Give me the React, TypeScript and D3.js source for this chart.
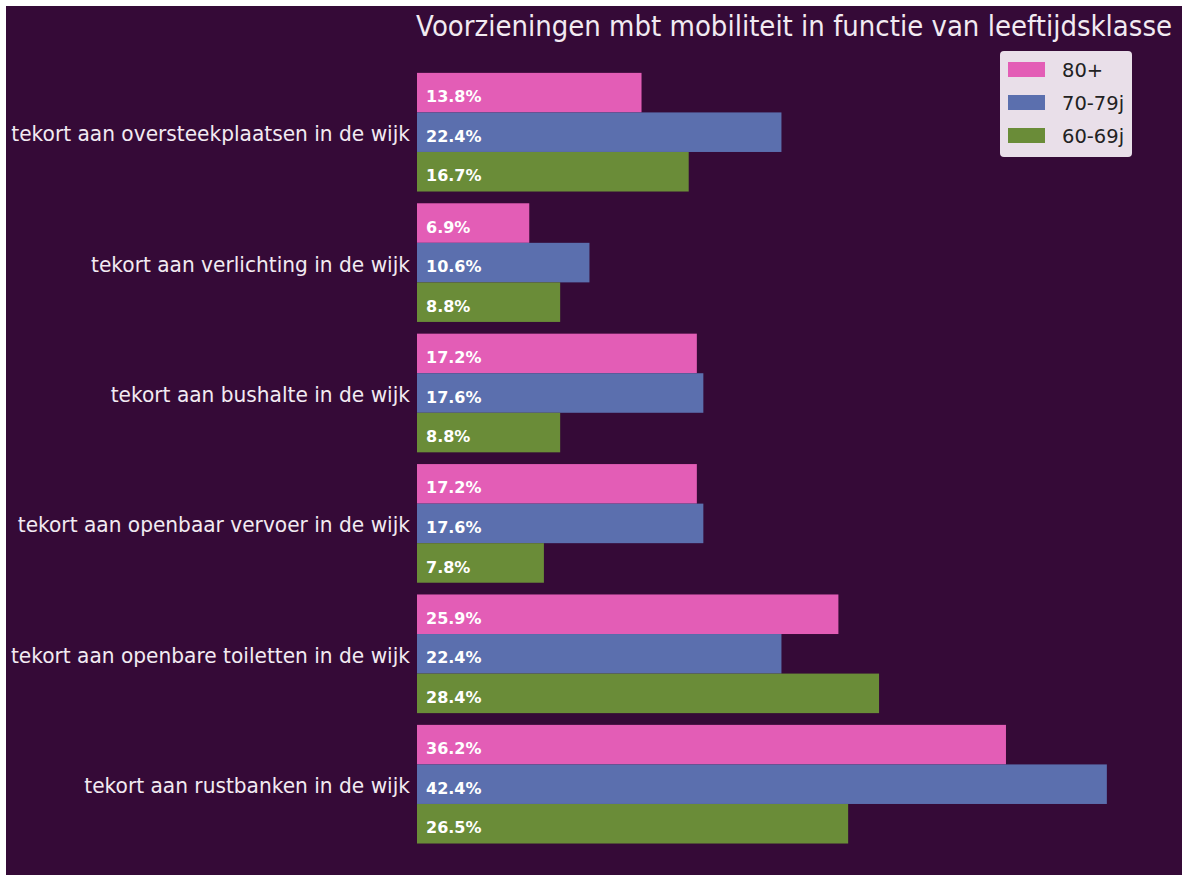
import React from "react";
import * as d3 from "d3";

const categories = [
  "tekort aan oversteekplaatsen in de wijk",
  "tekort aan verlichting in de wijk",
  "tekort aan bushalte in de wijk",
  "tekort aan openbaar vervoer in de wijk",
  "tekort aan openbare toiletten in de wijk",
  "tekort aan rustbanken in de wijk",
];
const seriesNames = ["80+", "70-79j", "60-69j"];
const values80 = [13.8, 6.9, 17.2, 17.2, 25.9, 36.2];
const values70 = [22.4, 10.6, 17.6, 17.6, 22.4, 42.4];
const values60 = [16.7, 8.8, 8.8, 7.8, 28.4, 26.5];
const seriesValues = [values80, values70, values60];
const colors = ["#e35db6", "#5b6fae", "#6a8c38"];
const title = "Voorzieningen mbt mobiliteit in functie van leeftijdsklasse";

const W = 1182;
const H = 875;
const BG = "#350a37";
const FONT = "'DejaVu Sans', sans-serif";

export default function App() {
  const x = d3.scaleLinear().domain([0, 45]).range([417, 417 + 45 * 16.27]);
  const y = d3
    .scaleBand<string>()
    .domain(categories)
    .range([67, 67 + 6 * 130.4])
    .paddingInner(0.09)
    .paddingOuter(0.045);
  const sub = d3
    .scaleBand<string>()
    .domain(seriesNames)
    .range([0, y.bandwidth()]);

  return (
    <div style={{ position: "fixed", left: 0, top: 0, width: W, height: H }}>
      <svg width={W} height={H} style={{ display: "block", background: "#ffffff" }}>
        <rect x={6} y={6} width={W - 6} height={H - 6} fill={BG} />
        <g transform="translate(1172,36) scale(0.915,1)">
          <text x={0} y={0} textAnchor="end" fill="#f2eaf2" fontFamily={FONT} fontSize={28.5}>
            {title}
          </text>
        </g>
        {categories.map((c) => (
          <g
            key={c}
            transform={`translate(410,${(y(c) as number) + y.bandwidth() / 2}) scale(0.96,1)`}
          >
            <text
              x={0}
              y={0}
              dy="0.43em"
              textAnchor="end"
              fill="#f2eaf2"
              fontFamily={FONT}
              fontSize={21}
            >
              {c}
            </text>
          </g>
        ))}
        {seriesNames.map((s, si) =>
          categories.map((c, ci) => {
            const v = seriesValues[si][ci];
            const y0 = (y(c) as number) + (sub(s) as number);
            return (
              <g key={s + c}>
                <rect
                  x={x(0)}
                  y={y0}
                  width={x(v) - x(0)}
                  height={sub.bandwidth()}
                  fill={colors[si]}
                />
                <text
                  x={x(0) + 9}
                  y={y0 + sub.bandwidth() / 2}
                  dy="0.6em"
                  fill="#ffffff"
                  fontFamily={FONT}
                  fontWeight="bold"
                  fontSize={16}
                >
                  {v.toFixed(1) + "%"}
                </text>
              </g>
            );
          })
        )}
        <g>
          <rect x={1000} y={51} width={132} height={106} rx={4} fill="#e9dfe9" />
          {seriesNames.map((s, i) => (
            <g key={s}>
              <rect x={1008} y={62 + i * 33} width={37} height={15} fill={colors[i]} />
              <text
                x={1062}
                y={69.5 + i * 33}
                dy="0.38em"
                fill="#222"
                fontFamily={FONT}
                fontSize={19.5}
              >
                {s}
              </text>
            </g>
          ))}
        </g>
      </svg>
    </div>
  );
}
